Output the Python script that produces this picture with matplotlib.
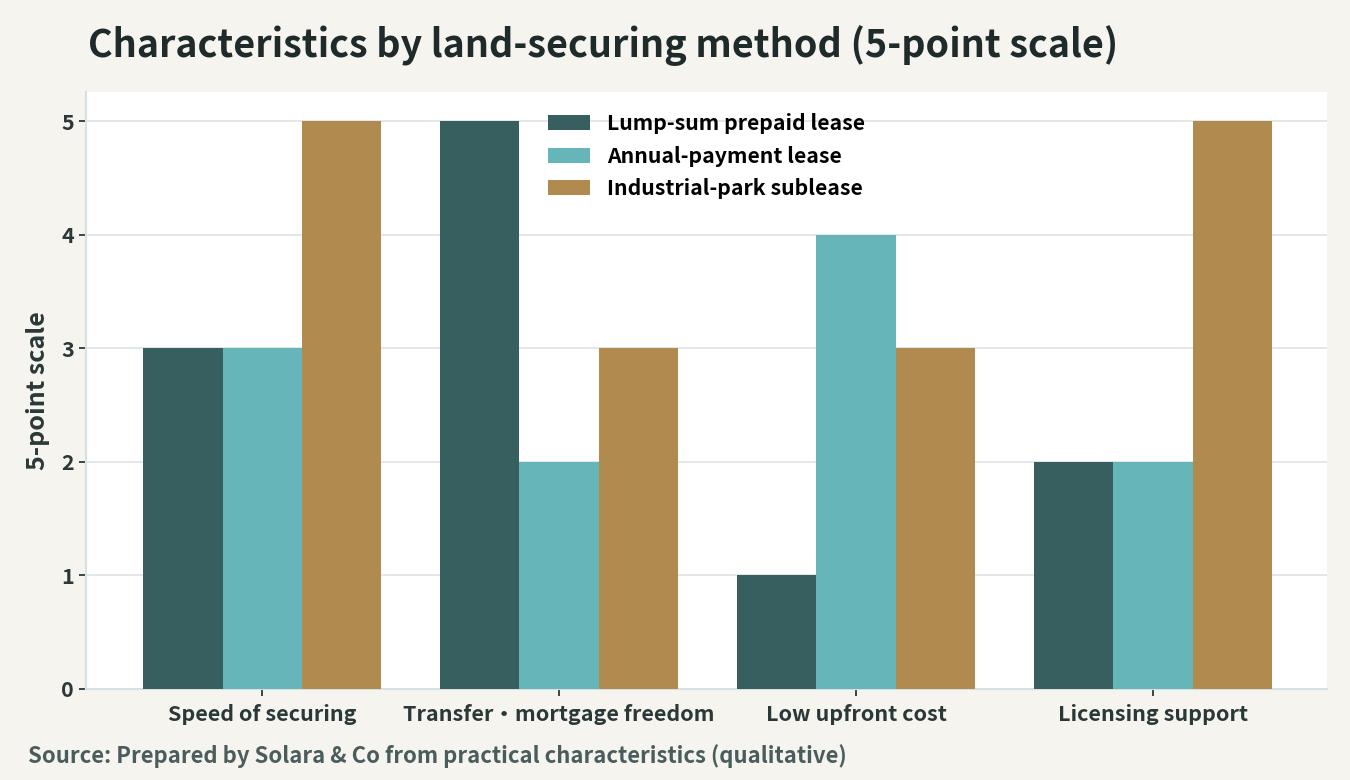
import numpy as np
import matplotlib
matplotlib.use("Agg")
import matplotlib.pyplot as plt

plt.rcParams['font.family'] = ['Noto Sans CJK JP', 'DejaVu Sans']
plt.rcParams['font.weight'] = 'bold'

categories = ["Speed of securing", "Transfer・mortgage freedom", "Low upfront cost", "Licensing support"]
series_names = ["Lump-sum prepaid lease", "Annual-payment lease", "Industrial-park sublease"]
lump_sum = [3, 5, 1, 2]
annual = [3, 2, 4, 2]
park = [5, 3, 3, 5]
colors = ["#375f5f", "#66b5b9", "#b08a4e"]

bg = "#f5f4ef"
dark = "#2b3838"

fig = plt.figure(figsize=(13.5, 7.8), dpi=100, facecolor=bg)
ax = fig.add_axes([0.0637, 0.1167, 0.9193, 0.7653])
ax.set_facecolor("white")

x = np.arange(len(categories))
w = 0.8 / 3
for i, (vals, name) in enumerate(zip([lump_sum, annual, park], series_names)):
    ax.bar(x + (i - 1) * w, vals, width=w, color=colors[i], label=name, zorder=3)

ax.set_xlim(-0.593, 3.586)
ax.set_ylim(0, 5.255)
ax.set_yticks([0, 1, 2, 3, 4, 5])
ax.set_xticks(x)
ax.set_xticklabels(categories)
ax.grid(axis='y', color="#dfe5e5", linewidth=1.3, zorder=0)
ax.set_axisbelow(True)

for s in ["top", "right"]:
    ax.spines[s].set_visible(False)
for s in ["left", "bottom"]:
    ax.spines[s].set_color("#d8e1e1")
    ax.spines[s].set_linewidth(1.5)

ax.tick_params(axis='both', colors=dark, labelsize=15.5, length=5, width=1.3)
ax.tick_params(axis='x', pad=6)
for lab in ax.get_xticklabels() + ax.get_yticklabels():
    lab.set_fontweight('bold')

ax.set_ylabel("5-point scale", fontsize=18, fontweight='bold', color=dark, labelpad=8)

leg = ax.legend(loc='upper left', bbox_to_anchor=(0.372, 0.965), frameon=False, fontsize=15.3,
                borderpad=0, borderaxespad=0,
                handlelength=2.0, handleheight=0.7, labelspacing=0.55, handletextpad=0.8)
for t in leg.get_texts():
    t.set_color("black")
    t.set_fontweight('bold')

fig.text(0.065, 0.927, "Characteristics by land-securing method (5-point scale)",
         fontsize=27.2, fontweight='bold', color="#1f2b2b", va='baseline')
fig.text(0.021, 0.022, "Source: Prepared by Solara & Co from practical characteristics (qualitative)",
         fontsize=15.9, fontweight='bold', color="#4b5c5c", va='baseline')

fig.savefig("out.png", dpi=100, facecolor=bg)
